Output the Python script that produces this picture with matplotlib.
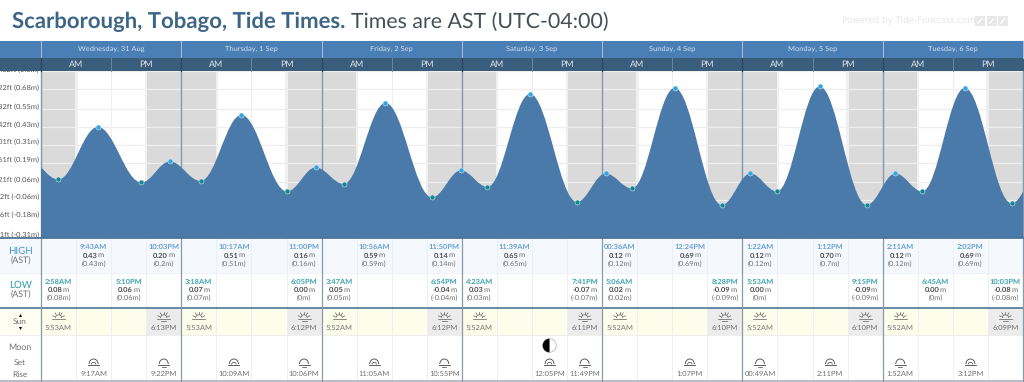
import numpy as np
import matplotlib
matplotlib.use("Agg")
import matplotlib.pyplot as plt
from matplotlib.patches import Rectangle, PathPatch, Arc, Circle, Wedge
from matplotlib.path import Path

plt.rcParams['font.family'] = ['Lato', 'DejaVu Sans']
plt.rcParams['text.hinting'] = 'no_hinting'

days = ["Wednesday, 31 Aug", "Thursday, 1 Sep", "Friday, 2 Sep", "Saturday, 3 Sep",
        "Sunday, 4 Sep", "Monday, 5 Sep", "Tuesday, 6 Sep"]

high_day = [0, 0, 1, 1, 2, 2, 3, 4, 4, 5, 5, 6, 6]
high_time = ["9:43AM", "10:03PM", "10:17AM", "11:00PM", "10:56AM", "11:50PM", "11:39AM",
             "00:36AM", "12:24PM", "1:22AM", "1:12PM", "2:11AM", "2:02PM"]
high_m = [0.43, 0.20, 0.51, 0.16, 0.59, 0.14, 0.65, 0.12, 0.69, 0.12, 0.70, 0.12, 0.69]

low_day = [0, 0, 1, 1, 2, 2, 3, 3, 4, 4, 5, 5, 6, 6]
low_time = ["2:58AM", "5:10PM", "3:18AM", "6:05PM", "3:47AM", "6:54PM", "4:23AM",
            "7:41PM", "5:06AM", "8:28PM", "5:53AM", "9:15PM", "6:45AM", "10:03PM"]
low_m = [0.08, 0.06, 0.07, 0.00, 0.05, -0.04, 0.03, -0.07, 0.02, -0.09, 0.00, -0.09, 0.00, -0.08]

# tide turning points just outside the week, they only shape the edges
edge_hours = [-2.6, 170.6]
edge_m = [0.23, 0.12]

sunrise = ["5:53AM", "5:53AM", "5:52AM", "5:52AM", "5:52AM", "5:52AM", "5:52AM"]
sunset = ["6:13PM", "6:12PM", "6:12PM", "6:11PM", "6:10PM", "6:10PM", "6:09PM"]

moon_day = [0, 0, 1, 1, 2, 2, 3, 3, 4, 5, 5, 6, 6]
moon_time = ["9:17AM", "9:22PM", "10:09AM", "10:06PM", "11:05AM", "10:55PM", "12:05PM",
             "11:49PM", "1:07PM", "00:49AM", "2:11PM", "1:52AM", "3:12PM"]
moon_kind = ["set", "rise", "set", "rise", "set", "rise", "set",
             "rise", "set", "rise", "set", "rise", "set"]
half_moon_day = 3
half_moon_slot = 2

tick_m = [0.80, 0.68, 0.55, 0.43, 0.31, 0.19, 0.06, -0.06, -0.18, -0.31]
tick_labels = ["2.62ft (0.8m)", "2.22ft (0.68m)", "1.82ft (0.55m)", "1.42ft (0.43m)",
               "1.01ft (0.31m)", "0.61ft (0.19m)", "0.21ft (0.06m)", "-0.2ft (-0.06m)",
               "-0.6ft (-0.18m)", "-1ft (-0.31m)"]

BLUE = "#4a7aa9"
DARK = "#3a5d7c"
HEAD = "#4a7fb5"
GREY_TXT = "#707070"
HIGH_C = "#6a9fd6"
LOW_C = "#3aa3ae"
X0, X1 = 41.0, 1023.0
DAY_W = (X1 - X0) / 7


def to_hour(s):
    h, m = s[:-2].split(":")
    h = int(h) % 12
    if s.endswith("PM"):
        h += 12
    return h + int(m) / 60


def abs_hours(day, labels):
    return np.array([d * 24 + to_hour(t) for d, t in zip(day, labels)])


def slot_x(day, label):
    return X0 + (day + (int(to_hour(label) // 6) + 0.5) / 4) * DAY_W


high_h = abs_hours(high_day, high_time)
low_h = abs_hours(low_day, low_time)
all_h = np.concatenate([high_h, low_h, edge_hours])
all_m = np.concatenate([high_m, low_m, edge_m])
order = np.argsort(all_h)
all_h, all_m = all_h[order], all_m[order]

fig = plt.figure(figsize=(10.24, 3.82), dpi=100, facecolor="white")

ax = fig.add_axes([X0 / 1024, 1 - 237.5 / 382, (X1 - X0) / 1024, (237.5 - 71) / 382], zorder=1)
ax.set_xlim(0, 168)
ax.set_ylim(-0.307, 0.803)
for s in ax.spines.values():
    s.set_visible(False)
ax.set_xticks([])
ax.set_yticks([])

# night shading
for d in range(7):
    rise = d * 24 + to_hour(sunrise[d])
    sets = d * 24 + to_hour(sunset[d])
    ax.axvspan(d * 24, rise, color="#dadada", lw=0, zorder=1)
    ax.axvspan(rise, rise + 0.4, color="#f0f0f0", lw=0, zorder=1)
    ax.axvspan(sets, d * 24 + 24, color="#dadada", lw=0, zorder=1)
    ax.axvspan(sets - 0.4, sets, color="#f0f0f0", lw=0, zorder=1)
    ax.axvline(d * 24 + 12, color="#eeeeee", lw=0.8, zorder=1.5)

for m, lab in zip(tick_m, tick_labels):
    ax.axhline(m, color="#eeeeee", lw=0.9, zorder=1.5)
    # the labels sit a little above their grid lines, more so towards the bottom
    ax.annotate(lab, (0, m), xytext=(-2, 2 + 1.5 * (0.68 - m) / 0.99), textcoords="offset pixels",
                ha="right", va="center", fontsize=5.4, color="#555555", annotation_clip=False)

for d in range(8):
    ax.axvline(d * 24, color="#8797a8", lw=1.0, zorder=1.8, clip_on=False)

# tide curve through the turning points, flat at each of them
verts = [(all_h[0], -0.307), (all_h[0], all_m[0])]
codes = [Path.MOVETO, Path.LINETO]
for i in range(len(all_h) - 1):
    dt = all_h[i + 1] - all_h[i]
    verts += [(all_h[i] + 0.37 * dt, all_m[i]), (all_h[i + 1] - 0.37 * dt, all_m[i + 1]),
              (all_h[i + 1], all_m[i + 1])]
    codes += [Path.CURVE4] * 3
verts += [(all_h[-1], -0.307), (all_h[0], -0.307)]
codes += [Path.LINETO, Path.CLOSEPOLY]
ax.add_patch(PathPatch(Path(verts, codes), facecolor=BLUE, edgecolor="none", zorder=2))

ax.plot(high_h, high_m, "o", ms=3.6, color="#2ea6e6", mec="#d5e6f2", mew=0.4, zorder=4)
ax.plot(low_h, low_m, "o", ms=3.6, color="#0f8a90", mec="#d5e6f2", mew=0.4, zorder=4)

# everything around the chart is laid out in pixels
pg = fig.add_axes([0, 0, 1, 1], zorder=2)
pg.set_xlim(0, 1024)
pg.set_ylim(382, 0)
pg.axis("off")
pg.patch.set_alpha(0)
rend = fig.canvas.get_renderer()


def band(x, y, w, h, c, z=1):
    pg.add_patch(Rectangle((x, y), w, h, facecolor=c, edgecolor="none", zorder=z))


def value_text(x, y, m):
    num = pg.text(x, y, f"{m:.2f}", ha="left", va="center", fontsize=5.4, color="#4d4d4d",
                  fontweight="bold", zorder=5)
    unit = pg.text(x, y, "m", ha="left", va="center", fontsize=5.4, color="#666666", zorder=5)
    w1 = num.get_window_extent(rend).width
    w2 = unit.get_window_extent(rend).width
    num.set_x(x - (w1 + w2) / 2)
    unit.set_x(x - (w1 + w2) / 2 + w1)


def sun_icon(cx, cy, setting):
    c = "#5a5a5a"
    pg.add_patch(Arc((cx, cy + 2.5), 6.4, 6.4, theta1=180, theta2=360, color=c, lw=0.5, zorder=4))
    pg.plot([cx - 6.5, cx + 6.5], [cy + 3, cy + 3], color=c, lw=0.5, zorder=4)
    if setting:
        pg.plot([cx - 2.5, cx + 2.5], [cy + 5, cy + 5], color=c, lw=0.5, zorder=4)
    for a in [20, 55, 90, 125, 160]:
        r = np.radians(a)
        pg.plot([cx + 4.2 * np.cos(r), cx + 6.2 * np.cos(r)],
                [cy + 2.5 - 4.2 * np.sin(r), cy + 2.5 - 6.2 * np.sin(r)], color=c, lw=0.5, zorder=4)


def moon_icon(cx, cy, kind):
    c = "#444444"
    pg.add_patch(Arc((cx, cy + 2), 9, 10, theta1=180, theta2=360, color=c, lw=0.6, zorder=4))
    pg.plot([cx - 5.5, cx + 5.5], [cy + 2.5, cy + 2.5], color=c, lw=0.6, zorder=4)
    if kind == "set":
        pg.add_patch(Arc((cx, cy + 2.5), 4.5, 4.5, theta1=180, theta2=360, color=c, lw=0.5, zorder=4))
    else:
        pg.plot([cx - 2, cx + 2], [cy + 4.5, cy + 4.5], color=c, lw=0.5, zorder=4)


# header
band(0, 40.5, 1024, 17, HEAD, 3)
band(0, 57.5, 1024, 13.5, DARK, 3)
pg.plot([0, 1024], [238, 238], color="#3f6a8f", lw=1.2, zorder=3)
for d in range(7):
    x = X0 + d * DAY_W
    pg.text(x + DAY_W / 2, 49, days[d], ha="center", va="center", fontsize=5.4, color="#d5e3f0", zorder=5)
    pg.text(x + DAY_W / 4, 64, "AM", ha="center", va="center", fontsize=6.4, color="#dde6ee", zorder=5)
    pg.text(x + 3 * DAY_W / 4, 64, "PM", ha="center", va="center", fontsize=6.4, color="#dde6ee", zorder=5)
    pg.plot([x, x], [41, 57.5], color="#a9c3dc", lw=0.7, zorder=4)
    pg.plot([x, x], [57.5, 71], color="#2c4860", lw=0.9, zorder=4)
    pg.plot([x + DAY_W / 2] * 2, [57.5, 71], color="#6b8aa5", lw=0.6, zorder=4)
pg.plot([X1, X1], [41, 57.5], color="#a9c3dc", lw=0.7, zorder=4)

# table rows
band(0, 238.5, 1024, 34, "#f5f9fe")
band(41, 308, 983, 26.5, "#fdfdec")
band(0, 308, 41, 26.5, "#fdfdf2")
pg.plot([0, 1024], [307.5, 307.5], color="#3f6a8f", lw=1.1, zorder=3)
pg.plot([0, 1024], [334.5, 334.5], color="#eeeeea", lw=0.8, zorder=3)
pg.plot([0, 1024], [380.5, 380.5], color="#b4bec8", lw=1.4, zorder=3)
pg.plot([0, 1024], [272.5, 272.5], color="#eef2f6", lw=0.7, zorder=3)

for d in range(7):
    x = X0 + d * DAY_W
    band(x + 3 * DAY_W / 4, 308, DAY_W / 4, 26.5, "#ececec", 1.5)
    for k in [1, 2, 3]:
        pg.plot([x + k * DAY_W / 4] * 2, [238.5, 380], color="#edf0f3", lw=0.7, zorder=2)
for d in range(8):
    x = X0 + d * DAY_W
    pg.plot([x, x], [238.5, 381], color="#8c98a5", lw=0.9, zorder=3)

for day, t, m in zip(high_day, high_time, high_m):
    x = slot_x(day, t)
    pg.text(x, 247.3, t, ha="center", va="center", fontsize=5.4, color=HIGH_C, fontweight="bold", zorder=5)
    value_text(x, 255.5, m)
    pg.text(x, 263.7, f"({m:g}m)", ha="center", va="center", fontsize=5.3, color=GREY_TXT, zorder=5)

for day, t, m in zip(low_day, low_time, low_m):
    x = slot_x(day, t)
    pg.text(x, 281.8, t, ha="center", va="center", fontsize=5.4, color=LOW_C, fontweight="bold", zorder=5)
    value_text(x, 290, m)
    pg.text(x, 298.2, f"({m:g}m)", ha="center", va="center", fontsize=5.3, color=GREY_TXT, zorder=5)

for d in range(7):
    x = slot_x(d, sunrise[d])
    sun_icon(x, 315.5, False)
    pg.text(x, 327.5, sunrise[d], ha="center", va="center", fontsize=5.4, color=GREY_TXT, zorder=5)
    x = slot_x(d, sunset[d])
    sun_icon(x, 315.5, True)
    pg.text(x, 327.5, sunset[d], ha="center", va="center", fontsize=5.4, color=GREY_TXT, zorder=5)

for day, t, kind in zip(moon_day, moon_time, moon_kind):
    x = slot_x(day, t)
    moon_icon(x, 362, kind)
    pg.text(x, 374, t, ha="center", va="center", fontsize=5.4, color=GREY_TXT, zorder=5)

hx = X0 + (half_moon_day + (half_moon_slot + 0.5) / 4) * DAY_W
pg.add_patch(Circle((hx, 345.5), 6.8, facecolor="white", edgecolor="#bbbbbb", lw=0.6, zorder=4))
pg.add_patch(Wedge((hx, 345.5), 6.8, 90, 270, facecolor="black", edgecolor="none", zorder=5))

# row titles
pg.text(20.5, 250.8, "HIGH", ha="center", va="center", fontsize=7, color="#4a94d4", zorder=5)
pg.text(20.5, 261, "(AST)", ha="center", va="center", fontsize=6.3, color=GREY_TXT, zorder=5)
pg.text(20.5, 285.3, "LOW", ha="center", va="center", fontsize=7, color="#2f9fb0", zorder=5)
pg.text(20.5, 295.3, "(AST)", ha="center", va="center", fontsize=6.3, color=GREY_TXT, zorder=5)
pg.text(20, 322, "Sun", ha="center", va="center", fontsize=6, color=GREY_TXT, zorder=5)
pg.plot([20.3], [315], "^", ms=2.2, color="black", mew=0, zorder=5)
pg.plot([20.3], [328.3], "v", ms=2.2, color="black", mew=0, zorder=5)
pg.text(20, 347, "Moon", ha="center", va="center", fontsize=6.4, color=GREY_TXT, zorder=5)
pg.text(20, 363, "Set", ha="center", va="center", fontsize=6, color=GREY_TXT, zorder=5)
pg.text(20, 375, "Rise", ha="center", va="center", fontsize=6, color=GREY_TXT, zorder=5)

# title
t1 = pg.text(12, 21.5, "Scarborough, Tobago, Tide Times.", ha="left", va="center", fontsize=15.9,
             fontweight="bold", color="#3d6585", zorder=5)
bb = t1.get_window_extent(rend)
pg.text(bb.x1 + 6, 21.5, "Times are AST (UTC-04:00)", ha="left", va="center", fontsize=15.4,
        color="#474f57", zorder=5)

pg.text(842, 21, "Powered by Tide-Forecast.com", ha="left", va="center", fontsize=6.3,
        family="DejaVu Sans", color="#e6e6e6", zorder=5)
for x in [975, 987, 998]:
    band(x, 16, 9.5, 10, "#e8e8e8", 4)
    pg.plot([x + 3, x + 6.5], [23, 19], color="white", lw=1.0, zorder=5)

fig.savefig("out.png", dpi=100)
